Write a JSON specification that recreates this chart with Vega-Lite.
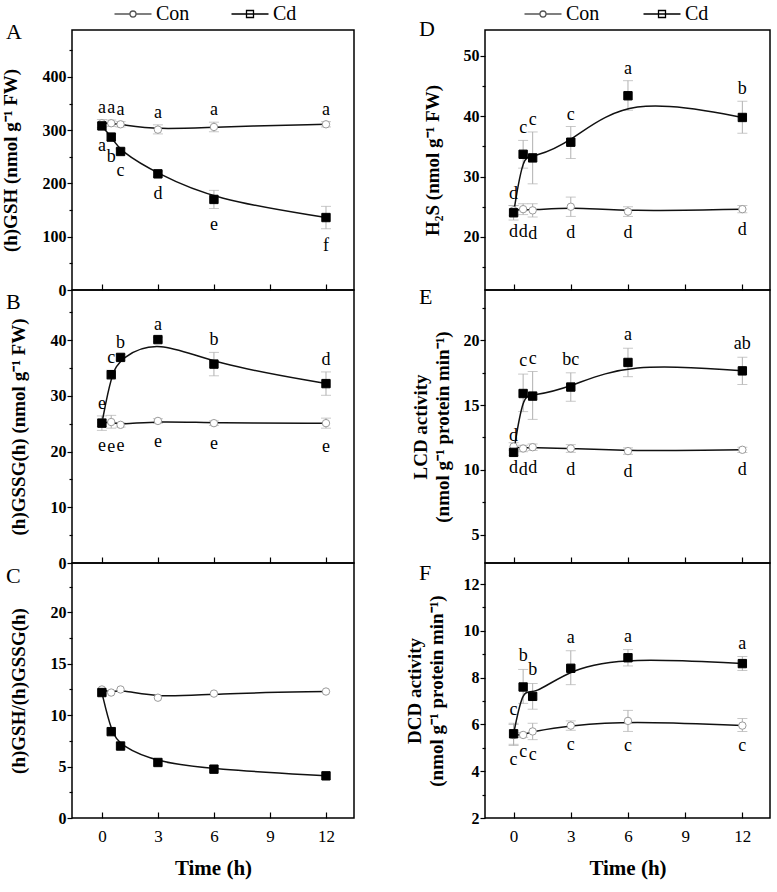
{
"$schema":"https://vega.github.io/schema/vega-lite/v6.json",
"background":"white",
"padding":{"left":0,"top":2,"right":2,"bottom":2},
"columns":2,
"spacing":{"row":0,"column":131},
"bounds":"flush",
"resolve":{"scale":{"shape":"independent","fill":"independent","stroke":"independent"},"legend":{"shape":"independent","fill":"independent","stroke":"independent"}},
"config":{
 "view":{"stroke":"black","strokeWidth":1.5},
 "font":"Liberation Serif",
 "axis":{"domain":false,"grid":false,"ticks":true,"tickColor":"black","tickWidth":1.2,"labelColor":"black","titleColor":"black","labelFont":"Liberation Serif","titleFont":"Liberation Serif"},
 "axisY":{"labelFontSize":16,"labelFontWeight":"bold","titleFontSize":19,"titleFontWeight":"bold","labelPadding":1,"titlePadding":22,"titleLineHeight":22,"tickSize":5},
 "axisX":{"labelFontSize":17,"labelFontWeight":"normal","titleFontSize":21,"titleFontWeight":"bold","labelPadding":16,"titlePadding":13,"labelFlush":false},
 "title":{"font":"Liberation Serif","fontSize":22,"fontWeight":"normal","anchor":"start","frame":"group","offset":0,"baseline":"alphabetic","color":"black"},
 "legend":{"labelFont":"Liberation Serif","labelFontSize":20,"labelColor":"black"}
},
"datasets":{"d":[
{"panel":"A","series":"Con","time":0,"value":313,"lo":305,"hi":320,"sig":"a"},
{"panel":"A","series":"Con","time":0.5,"value":313,"lo":307,"hi":319,"sig":"a"},
{"panel":"A","series":"Con","time":1,"value":311,"lo":306,"hi":316,"sig":"a"},
{"panel":"A","series":"Con","time":3,"value":301,"lo":293,"hi":310,"sig":"a"},
{"panel":"A","series":"Con","time":6,"value":306,"lo":297,"hi":315,"sig":"a"},
{"panel":"A","series":"Con","time":12,"value":311,"lo":306,"hi":316,"sig":"a"},
{"panel":"A","series":"Cd","time":0,"value":308,"lo":302,"hi":314,"sig":"a"},
{"panel":"A","series":"Cd","time":0.5,"value":287,"lo":281,"hi":293,"sig":"b"},
{"panel":"A","series":"Cd","time":1,"value":260,"lo":255,"hi":265,"sig":"c"},
{"panel":"A","series":"Cd","time":3,"value":218,"lo":213,"hi":223,"sig":"d"},
{"panel":"A","series":"Cd","time":6,"value":170,"lo":153,"hi":187,"sig":"e"},
{"panel":"A","series":"Cd","time":12,"value":136,"lo":115,"hi":157,"sig":"f"},
{"panel":"B","series":"Con","time":0,"value":25.2,"lo":24.5,"hi":25.9,"sig":"e"},
{"panel":"B","series":"Con","time":0.5,"value":25.3,"lo":24.2,"hi":26.5,"sig":"e"},
{"panel":"B","series":"Con","time":1,"value":24.8,"lo":24.4,"hi":25.2,"sig":"e"},
{"panel":"B","series":"Con","time":3,"value":25.5,"lo":25.1,"hi":25.9,"sig":"e"},
{"panel":"B","series":"Con","time":6,"value":25.1,"lo":24.7,"hi":25.5,"sig":"e"},
{"panel":"B","series":"Con","time":12,"value":25.1,"lo":24.2,"hi":26.0,"sig":"e"},
{"panel":"B","series":"Cd","time":0,"value":25.1,"lo":23.8,"hi":26.4,"sig":"e"},
{"panel":"B","series":"Cd","time":0.5,"value":33.8,"lo":33.0,"hi":34.6,"sig":"c"},
{"panel":"B","series":"Cd","time":1,"value":36.9,"lo":36.4,"hi":37.4,"sig":"b"},
{"panel":"B","series":"Cd","time":3,"value":40.1,"lo":39.7,"hi":40.5,"sig":"a"},
{"panel":"B","series":"Cd","time":6,"value":35.7,"lo":33.6,"hi":37.8,"sig":"b"},
{"panel":"B","series":"Cd","time":12,"value":32.2,"lo":30.1,"hi":34.3,"sig":"d"},
{"panel":"C","series":"Con","time":0,"value":12.5},
{"panel":"C","series":"Con","time":0.5,"value":12.2},
{"panel":"C","series":"Con","time":1,"value":12.5},
{"panel":"C","series":"Con","time":3,"value":11.7},
{"panel":"C","series":"Con","time":6,"value":12.1},
{"panel":"C","series":"Con","time":12,"value":12.3},
{"panel":"C","series":"Cd","time":0,"value":12.2},
{"panel":"C","series":"Cd","time":0.5,"value":8.4},
{"panel":"C","series":"Cd","time":1,"value":7.0},
{"panel":"C","series":"Cd","time":3,"value":5.4},
{"panel":"C","series":"Cd","time":6,"value":4.75},
{"panel":"C","series":"Cd","time":12,"value":4.1},
{"panel":"D","series":"Con","time":0,"value":24.4,"lo":23.6,"hi":25.2,"sig":"d"},
{"panel":"D","series":"Con","time":0.5,"value":24.6,"lo":23.7,"hi":25.5,"sig":"d"},
{"panel":"D","series":"Con","time":1,"value":24.4,"lo":23.3,"hi":25.5,"sig":"d"},
{"panel":"D","series":"Con","time":3,"value":25.0,"lo":23.4,"hi":26.6,"sig":"d"},
{"panel":"D","series":"Con","time":6,"value":24.2,"lo":23.4,"hi":25.0,"sig":"d"},
{"panel":"D","series":"Con","time":12,"value":24.6,"lo":24.0,"hi":25.2,"sig":"d"},
{"panel":"D","series":"Cd","time":0,"value":24.0,"lo":22.8,"hi":25.2,"sig":"d"},
{"panel":"D","series":"Cd","time":0.5,"value":33.7,"lo":31.4,"hi":36.0,"sig":"c"},
{"panel":"D","series":"Cd","time":1,"value":33.1,"lo":28.8,"hi":37.4,"sig":"c"},
{"panel":"D","series":"Cd","time":3,"value":35.7,"lo":33.0,"hi":38.3,"sig":"c"},
{"panel":"D","series":"Cd","time":6,"value":43.4,"lo":41.0,"hi":45.9,"sig":"a"},
{"panel":"D","series":"Cd","time":12,"value":39.8,"lo":37.2,"hi":42.5,"sig":"b"},
{"panel":"E","series":"Con","time":0,"value":11.8,"lo":11.5,"hi":12.1,"sig":"d"},
{"panel":"E","series":"Con","time":0.5,"value":11.65,"lo":11.4,"hi":11.9,"sig":"d"},
{"panel":"E","series":"Con","time":1,"value":11.75,"lo":11.5,"hi":12.0,"sig":"d"},
{"panel":"E","series":"Con","time":3,"value":11.65,"lo":11.35,"hi":11.95,"sig":"d"},
{"panel":"E","series":"Con","time":6,"value":11.45,"lo":11.2,"hi":11.7,"sig":"d"},
{"panel":"E","series":"Con","time":12,"value":11.55,"lo":11.35,"hi":11.75,"sig":"d"},
{"panel":"E","series":"Cd","time":0,"value":11.35,"lo":11.1,"hi":11.6,"sig":"d"},
{"panel":"E","series":"Cd","time":0.5,"value":15.9,"lo":14.5,"hi":17.4,"sig":"c"},
{"panel":"E","series":"Cd","time":1,"value":15.7,"lo":13.9,"hi":17.6,"sig":"c"},
{"panel":"E","series":"Cd","time":3,"value":16.4,"lo":15.3,"hi":17.5,"sig":"bc"},
{"panel":"E","series":"Cd","time":6,"value":18.3,"lo":17.2,"hi":19.4,"sig":"a"},
{"panel":"E","series":"Cd","time":12,"value":17.65,"lo":16.6,"hi":18.7,"sig":"ab"},
{"panel":"F","series":"Con","time":0,"value":5.55,"lo":5.1,"hi":6.0,"sig":"c"},
{"panel":"F","series":"Con","time":0.5,"value":5.55,"lo":5.45,"hi":5.65,"sig":"c"},
{"panel":"F","series":"Con","time":1,"value":5.7,"lo":5.35,"hi":6.05,"sig":"c"},
{"panel":"F","series":"Con","time":3,"value":5.95,"lo":5.75,"hi":6.15,"sig":"c"},
{"panel":"F","series":"Con","time":6,"value":6.15,"lo":5.7,"hi":6.6,"sig":"c"},
{"panel":"F","series":"Con","time":12,"value":5.95,"lo":5.7,"hi":6.25,"sig":"c"},
{"panel":"F","series":"Cd","time":0,"value":5.6,"lo":5.15,"hi":6.05,"sig":"c"},
{"panel":"F","series":"Cd","time":0.5,"value":7.6,"lo":6.9,"hi":8.35,"sig":"b"},
{"panel":"F","series":"Cd","time":1,"value":7.2,"lo":6.65,"hi":7.75,"sig":"b"},
{"panel":"F","series":"Cd","time":3,"value":8.4,"lo":7.7,"hi":9.15,"sig":"a"},
{"panel":"F","series":"Cd","time":6,"value":8.85,"lo":8.5,"hi":9.2,"sig":"a"},
{"panel":"F","series":"Cd","time":12,"value":8.6,"lo":8.3,"hi":8.9,"sig":"a"}
]},
"concat":[
{
 "width":282,"height":260,
 "title":{"text":"A","dx":-66,"dy":45},
 "data":{"name":"d"},
 "transform":[{"filter":"datum.panel==='A'"}],
 "encoding":{"x":{"field":"time","type":"quantitative","scale":{"domain":[-1.6,13.5],"nice":false,"zero":false},"axis":{"values":[0,3,6,9,12],"labels":false,"title":null,"tickSize":-6}},
  "y":{"field":"value","type":"quantitative","scale":{"domain":[0,488],"nice":false,"zero":false},"axis":{"title":"(h)GSH (nmol g⁻¹ FW)","values":[0,50,100,150,200,250,300,350,400,450],"labelExpr":"datum.value % 100 === 0 ? datum.label : ''","tickSize":{"condition":{"test":"datum.value % 100 === 0","value":5},"value":3}}}},
 "layer":[
  {"mark":{"type":"errorbar","color":"#b0b0b0","thickness":1,"ticks":{"size":10}},
   "encoding":{"y":{"field":"lo","type":"quantitative"},"y2":{"field":"hi"}}},
  {"mark":{"type":"line","interpolate":"basis","strokeWidth":1.5,"color":"#111111"},
   "encoding":{"detail":{"field":"series"}}},
  {"mark":{"type":"point","opacity":0,"size":400,"filled":true},
   "encoding":{
    "shape":{"field":"series","type":"nominal","scale":{"domain":["Con","Cd"],"range":["M-1.85,0H-0.3M0.3,0H1.85M-0.3,0A0.3,0.3 0 1,1 0.3,0A0.3,0.3 0 1,1 -0.3,0Z","M-1.85,0H1.85M-0.35,-0.35H0.35V0.35H-0.35Z"]},"legend":{"orient":"none","legendX":50,"legendY":-27,"direction":"horizontal","title":null,"symbolSize":400,"symbolStrokeWidth":1.3,"labelOffset":12,"columnPadding":38}},
    "fill":{"field":"series","type":"nominal","scale":{"domain":["Con","Cd"],"range":["white","black"]}},
    "stroke":{"field":"series","type":"nominal","scale":{"domain":["Con","Cd"],"range":["#555555","black"]}}}},
  {"transform":[{"filter":"datum.series==='Con'"}],
   "mark":{"type":"point","shape":"circle","size":55,"filled":true,"fill":"white","stroke":"#9a9a9a","strokeWidth":1,"opacity":1}},
  {"transform":[{"filter":"datum.series==='Cd'"}],
   "mark":{"type":"point","shape":"square","size":70,"filled":true,"fill":"black","stroke":"black","strokeWidth":1,"opacity":1}},
  {"transform":[{"filter":"datum.series==='Con'"}],
   "mark":{"type":"text","dy":-7,"baseline":"alphabetic","fontSize":18,"font":"Liberation Serif","color":"black"},
   "encoding":{"y":{"field":"hi","type":"quantitative"},"text":{"field":"sig"}}},
  {"transform":[{"filter":"datum.series==='Cd'"}],
   "mark":{"type":"text","dy":22,"baseline":"alphabetic","fontSize":18,"font":"Liberation Serif","color":"black"},
   "encoding":{"y":{"field":"lo","type":"quantitative"},"text":{"field":"sig"}}}
 ]
},
{
 "width":285,"height":260,
 "title":{"text":"D","dx":-66,"dy":42},
 "data":{"name":"d"},
 "transform":[{"filter":"datum.panel==='D'"}],
 "encoding":{"x":{"field":"time","type":"quantitative","scale":{"domain":[-1.5,13.45],"nice":false,"zero":false},"axis":{"values":[0,3,6,9,12],"labels":false,"title":null,"tickSize":-6}},
  "y":{"field":"value","type":"quantitative","scale":{"domain":[11.2,54.3],"nice":false,"zero":false},"axis":{"title":"H₂S (nmol g⁻¹ FW)","titlePadding":21,"values":[15,20,25,30,35,40,45,50],"labelExpr":"datum.value % 10 === 0 ? datum.label : ''","tickSize":{"condition":{"test":"datum.value % 10 === 0","value":5},"value":3}}}},
 "layer":[
  {"mark":{"type":"errorbar","color":"#b0b0b0","thickness":1,"ticks":{"size":10}},
   "encoding":{"y":{"field":"lo","type":"quantitative"},"y2":{"field":"hi"}}},
  {"mark":{"type":"line","interpolate":"basis","strokeWidth":1.5,"color":"#111111"},
   "encoding":{"detail":{"field":"series"}}},
  {"mark":{"type":"point","opacity":0,"size":400,"filled":true},
   "encoding":{
    "shape":{"field":"series","type":"nominal","scale":{"domain":["Con","Cd"],"range":["M-1.85,0H-0.3M0.3,0H1.85M-0.3,0A0.3,0.3 0 1,1 0.3,0A0.3,0.3 0 1,1 -0.3,0Z","M-1.85,0H1.85M-0.35,-0.35H0.35V0.35H-0.35Z"]},"legend":{"orient":"none","legendX":47,"legendY":-27,"direction":"horizontal","title":null,"symbolSize":400,"symbolStrokeWidth":1.3,"labelOffset":12,"columnPadding":40}},
    "fill":{"field":"series","type":"nominal","scale":{"domain":["Con","Cd"],"range":["white","black"]}},
    "stroke":{"field":"series","type":"nominal","scale":{"domain":["Con","Cd"],"range":["#555555","black"]}}}},
  {"transform":[{"filter":"datum.series==='Con'"}],
   "mark":{"type":"point","shape":"circle","size":55,"filled":true,"fill":"white","stroke":"#9a9a9a","strokeWidth":1,"opacity":1}},
  {"transform":[{"filter":"datum.series==='Cd'"}],
   "mark":{"type":"point","shape":"square","size":70,"filled":true,"fill":"black","stroke":"black","strokeWidth":1,"opacity":1}},
  {"transform":[{"filter":"datum.series==='Cd'"}],
   "mark":{"type":"text","dy":-7,"baseline":"alphabetic","fontSize":18,"font":"Liberation Serif","color":"black"},
   "encoding":{"y":{"field":"hi","type":"quantitative"},"text":{"field":"sig"}}},
  {"transform":[{"filter":"datum.series==='Con'"}],
   "mark":{"type":"text","dy":22,"baseline":"alphabetic","fontSize":18,"font":"Liberation Serif","color":"black"},
   "encoding":{"y":{"field":"lo","type":"quantitative"},"text":{"field":"sig"}}}
 ]
},
{
 "width":282,"height":273,
 "title":{"text":"B","dx":-66,"dy":28},
 "data":{"name":"d"},
 "transform":[{"filter":"datum.panel==='B'"}],
 "encoding":{"x":{"field":"time","type":"quantitative","scale":{"domain":[-1.6,13.5],"nice":false,"zero":false},"axis":{"values":[0,3,6,9,12],"labels":false,"title":null,"tickSize":-6}},
  "y":{"field":"value","type":"quantitative","scale":{"domain":[0,49],"nice":false,"zero":false},"axis":{"title":"(h)GSSG(h) (nmol g⁻¹ FW)","values":[0,5,10,15,20,25,30,35,40,45],"labelExpr":"datum.value % 10 === 0 ? datum.label : ''","tickSize":{"condition":{"test":"datum.value % 10 === 0","value":5},"value":3}}}},
 "layer":[
  {"mark":{"type":"errorbar","color":"#b0b0b0","thickness":1,"ticks":{"size":10}},
   "encoding":{"y":{"field":"lo","type":"quantitative"},"y2":{"field":"hi"}}},
  {"mark":{"type":"line","interpolate":"basis","strokeWidth":1.5,"color":"#111111"},
   "encoding":{"detail":{"field":"series"}}},
  {"transform":[{"filter":"datum.series==='Con'"}],
   "mark":{"type":"point","shape":"circle","size":55,"filled":true,"fill":"white","stroke":"#9a9a9a","strokeWidth":1,"opacity":1}},
  {"transform":[{"filter":"datum.series==='Cd'"}],
   "mark":{"type":"point","shape":"square","size":70,"filled":true,"fill":"black","stroke":"black","strokeWidth":1,"opacity":1}},
  {"transform":[{"filter":"datum.series==='Cd'"}],
   "mark":{"type":"text","dy":-7,"baseline":"alphabetic","fontSize":18,"font":"Liberation Serif","color":"black"},
   "encoding":{"y":{"field":"hi","type":"quantitative"},"text":{"field":"sig"}}},
  {"transform":[{"filter":"datum.series==='Con'"}],
   "mark":{"type":"text","dy":24,"baseline":"alphabetic","fontSize":18,"font":"Liberation Serif","color":"black"},
   "encoding":{"y":{"field":"lo","type":"quantitative"},"text":{"field":"sig"}}}
 ]
},
{
 "width":285,"height":273,
 "title":{"text":"E","dx":-66,"dy":23},
 "data":{"name":"d"},
 "transform":[{"filter":"datum.panel==='E'"}],
 "encoding":{"x":{"field":"time","type":"quantitative","scale":{"domain":[-1.5,13.45],"nice":false,"zero":false},"axis":{"values":[0,3,6,9,12],"labels":false,"title":null,"tickSize":-6}},
   "y":{"field":"value","type":"quantitative","scale":{"domain":[2.8,23.9],"nice":false,"zero":false},"axis":{"title":["LCD activity","(nmol g⁻¹ protein min⁻¹)"],"titlePadding":11,"values":[5,7.5,10,12.5,15,17.5,20,22.5],"labelExpr":"datum.value % 5 === 0 ? datum.label : ''","tickSize":{"condition":{"test":"datum.value % 5 === 0","value":5},"value":3}}}},
 "layer":[
  {"mark":{"type":"errorbar","color":"#b0b0b0","thickness":1,"ticks":{"size":10}},
   "encoding":{"y":{"field":"lo","type":"quantitative"},"y2":{"field":"hi"}}},
  {"mark":{"type":"line","interpolate":"basis","strokeWidth":1.5,"color":"#111111"},
   "encoding":{"detail":{"field":"series"}}},
  {"transform":[{"filter":"datum.series==='Con'"}],
   "mark":{"type":"point","shape":"circle","size":55,"filled":true,"fill":"white","stroke":"#9a9a9a","strokeWidth":1,"opacity":1}},
  {"transform":[{"filter":"datum.series==='Cd'"}],
   "mark":{"type":"point","shape":"square","size":70,"filled":true,"fill":"black","stroke":"black","strokeWidth":1,"opacity":1}},
  {"transform":[{"filter":"datum.series==='Cd'"}],
   "mark":{"type":"text","dy":-8,"baseline":"alphabetic","fontSize":18,"font":"Liberation Serif","color":"black"},
   "encoding":{"y":{"field":"hi","type":"quantitative"},"text":{"field":"sig"}}},
  {"transform":[{"filter":"datum.series==='Con'"}],
   "mark":{"type":"text","dy":23,"baseline":"alphabetic","fontSize":18,"font":"Liberation Serif","color":"black"},
   "encoding":{"y":{"field":"lo","type":"quantitative"},"text":{"field":"sig"}}}
 ]
},
{
 "width":282,"height":255,
 "title":{"text":"C","dx":-66,"dy":29},
 "data":{"name":"d"},
 "transform":[{"filter":"datum.panel==='C'"}],
 "encoding":{"x":{"field":"time","type":"quantitative","scale":{"domain":[-1.6,13.5],"nice":false,"zero":false},"axis":{"values":[0,3,6,9,12],"title":"Time (h)","tickSize":-6}},
  "y":{"field":"value","type":"quantitative","scale":{"domain":[0,24.8],"nice":false,"zero":false},"axis":{"title":"(h)GSH/(h)GSSG(h)","values":[0,2.5,5,7.5,10,12.5,15,17.5,20,22.5],"labelExpr":"datum.value % 5 === 0 ? datum.label : ''","tickSize":{"condition":{"test":"datum.value % 5 === 0","value":5},"value":3}}}},
 "layer":[
  {"mark":{"type":"line","interpolate":"basis","strokeWidth":1.5,"color":"#111111"},
   "encoding":{"detail":{"field":"series"}}},
  {"transform":[{"filter":"datum.series==='Con'"}],
   "mark":{"type":"point","shape":"circle","size":55,"filled":true,"fill":"white","stroke":"#9a9a9a","strokeWidth":1,"opacity":1}},
  {"transform":[{"filter":"datum.series==='Cd'"}],
   "mark":{"type":"point","shape":"square","size":70,"filled":true,"fill":"black","stroke":"black","strokeWidth":1,"opacity":1}}
 ]
},
{
 "width":285,"height":255,
 "title":{"text":"F","dx":-66,"dy":26},
 "data":{"name":"d"},
 "transform":[{"filter":"datum.panel==='F'"}],
 "encoding":{"x":{"field":"time","type":"quantitative","scale":{"domain":[-1.5,13.45],"nice":false,"zero":false},"axis":{"values":[0,3,6,9,12],"title":"Time (h)","tickSize":-6}},
  "y":{"field":"value","type":"quantitative","scale":{"domain":[2.0,12.9],"nice":false,"zero":false},"axis":{"title":["DCD activity","(nmol g⁻¹ protein min⁻¹)"],"titlePadding":17,"values":[2,3,4,5,6,7,8,9,10,11,12],"labelExpr":"datum.value % 2 === 0 ? datum.label : ''","tickSize":{"condition":{"test":"datum.value % 2 === 0","value":5},"value":3}}}},
 "layer":[
  {"mark":{"type":"errorbar","color":"#b0b0b0","thickness":1,"ticks":{"size":10}},
   "encoding":{"y":{"field":"lo","type":"quantitative"},"y2":{"field":"hi"}}},
  {"mark":{"type":"line","interpolate":"basis","strokeWidth":1.5,"color":"#111111"},
   "encoding":{"detail":{"field":"series"}}},
  {"transform":[{"filter":"datum.series==='Con'"}],
   "mark":{"type":"point","shape":"circle","size":55,"filled":true,"fill":"white","stroke":"#9a9a9a","strokeWidth":1,"opacity":1}},
  {"transform":[{"filter":"datum.series==='Cd'"}],
   "mark":{"type":"point","shape":"square","size":70,"filled":true,"fill":"black","stroke":"black","strokeWidth":1,"opacity":1}},
  {"transform":[{"filter":"datum.series==='Cd'"}],
   "mark":{"type":"text","dy":-8,"baseline":"alphabetic","fontSize":18,"font":"Liberation Serif","color":"black"},
   "encoding":{"y":{"field":"hi","type":"quantitative"},"text":{"field":"sig"}}},
  {"transform":[{"filter":"datum.series==='Con'"}],
   "mark":{"type":"text","dy":20,"baseline":"alphabetic","fontSize":18,"font":"Liberation Serif","color":"black"},
   "encoding":{"y":{"field":"lo","type":"quantitative"},"text":{"field":"sig"}}}
 ]
}
]
}
